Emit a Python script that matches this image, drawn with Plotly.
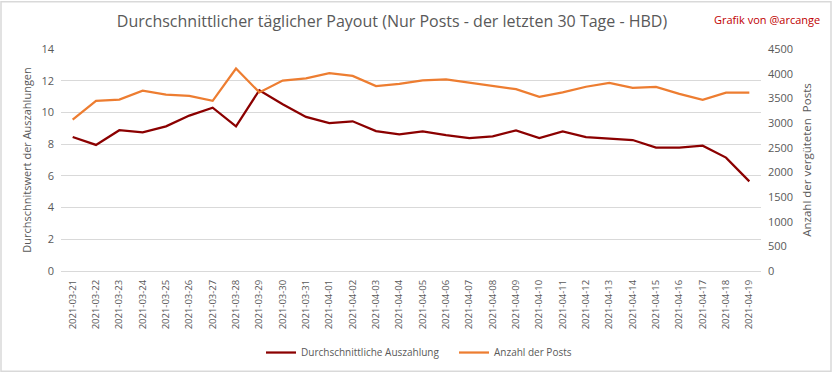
import plotly.graph_objects as go

dates = ["2021-03-21","2021-03-22","2021-03-23","2021-03-24","2021-03-25","2021-03-26","2021-03-27",
         "2021-03-28","2021-03-29","2021-03-30","2021-03-31","2021-04-01","2021-04-02","2021-04-03",
         "2021-04-04","2021-04-05","2021-04-06","2021-04-07","2021-04-08","2021-04-09","2021-04-10",
         "2021-04-11","2021-04-12","2021-04-13","2021-04-14","2021-04-15","2021-04-16","2021-04-17",
         "2021-04-18","2021-04-19"]
avg_payout = [8.45, 7.95, 8.88, 8.75, 9.12, 9.8, 10.3, 9.12, 11.4, 10.52, 9.72, 9.32, 9.44, 8.82,
              8.62, 8.8, 8.57, 8.38, 8.49, 8.87, 8.39, 8.8, 8.44, 8.33, 8.26, 7.78, 7.78, 7.9,
              7.15, 5.65]
post_count = [3070, 3450, 3475, 3655, 3575, 3550, 3450, 4105, 3620, 3860, 3905, 4010, 3955, 3750,
              3795, 3865, 3885, 3815, 3750, 3685, 3530, 3620, 3735, 3815, 3710, 3730, 3590, 3470,
              3615, 3615]

name_payout = "Durchschnittliche Auszahlung"
name_posts = "Anzahl der Posts"
title = "Durchschnittlicher täglicher Payout (Nur Posts - der letzten 30 Tage - HBD)"
y1_title = "Durchschnitswert der Auszahlungen"
y2_title = "Anzahl der vergüteten  Posts"
credit = "Grafik von @arcange"

FONT = "Open Sans"
GRAY = "#595959"

fig = go.Figure()
fig.add_trace(go.Scatter(x=dates, y=avg_payout, name=name_payout, mode="lines",
                         line=dict(color="#8B0000", width=2.25), yaxis="y"))
fig.add_trace(go.Scatter(x=dates, y=post_count, name=name_posts, mode="lines",
                         line=dict(color="#ED7D31", width=2.25), yaxis="y2"))

fig.update_layout(
    width=833, height=379,
    margin=dict(l=61, r=72, t=49, b=104),
    paper_bgcolor="white", plot_bgcolor="white",
    font=dict(family=FONT, color=GRAY, size=11),
    title=dict(text=title, x=392/833, xanchor="center", y=1-21/379, yanchor="middle",
               font=dict(family=FONT, size=16, color=GRAY)),
    xaxis=dict(type="category", range=[-0.5, len(dates)-0.5], tickangle=-90,
               tickfont=dict(size=9.5, color=GRAY), ticklabelstandoff=4,
               showgrid=False, showline=True, linecolor="#d9d9d9", linewidth=1,
               ticks="", zeroline=False, automargin=False),
    yaxis=dict(range=[0, 14], dtick=2, showgrid=True, gridcolor="#d9d9d9", gridwidth=1,
               zeroline=False, ticks="", tickfont=dict(size=11, color=GRAY), ticklabelstandoff=6,
               automargin=False,
               title=dict(text=y1_title, font=dict(size=11, color=GRAY), standoff=7)),
    yaxis2=dict(range=[0, 4500], dtick=500, overlaying="y", side="right", showgrid=False,
                zeroline=False, ticks="", tickfont=dict(size=11, color=GRAY), ticklabelstandoff=6,
                automargin=False,
                title=dict(text=y2_title, font=dict(size=11.5, color=GRAY), standoff=10)),
    legend=dict(orientation="h", x=(261-61)/700, xanchor="left", y=-(358-275)/226, yanchor="middle",
                entrywidth=148, entrywidthmode="pixels",
                font=dict(size=10, color=GRAY), bgcolor="rgba(0,0,0,0)"),
    showlegend=True,
)

fig.add_annotation(text=credit, xref="paper", yref="paper", x=(822-61)/700, y=(275-19)/226,
                   xanchor="right", yanchor="middle", showarrow=False,
                   font=dict(family=FONT, size=11, color="#C00000"))

fig.add_shape(type="rect", xref="paper", yref="paper",
              x0=(1-61)/700, x1=(831-61)/700, y0=(275-377)/226, y1=(275-1)/226,
              line=dict(color="#d9d9d9", width=1.5), fillcolor="rgba(0,0,0,0)", layer="below")

fig.write_html("out.html", config={"displayModeBar": False},
               post_script="document.body.style.margin='0';")
